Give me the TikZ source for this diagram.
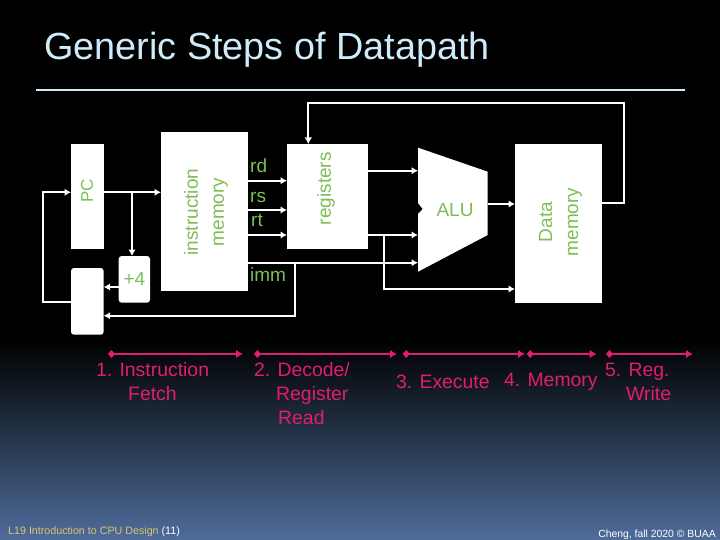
\documentclass[tikz,border=0pt]{standalone}
\usepackage{fontspec}
\setmainfont{Liberation Sans}
\usetikzlibrary{arrows.meta}
\definecolor{lbl}{RGB}{125,190,85}
\definecolor{stepc}{RGB}{225,30,110}
\definecolor{ttl}{RGB}{205,235,250}
\definecolor{gold}{RGB}{225,195,110}
\definecolor{bgtop}{RGB}{0,0,0}
\definecolor{bgbot}{RGB}{78,108,155}
\tikzset{
  x=1pt,y=-1pt,
  box/.style={fill=white,draw=none,inner sep=0pt,outer sep=0pt,anchor=north west,text=lbl,align=center,font=\fontsize{19}{21}\selectfont},
  wire/.style={draw=white,line width=2pt,-{Latex[length=6.5pt,width=7.5pt]}},
  stepline/.style={draw=stepc,line width=2.8pt,{Diamond[length=7pt,width=8pt]}-{Latex[length=7pt,width=8.5pt]}},
  reg/.style={text=lbl,font=\fontsize{19}{21}\selectfont,inner sep=0pt},
  innerlbl/.style={text=lbl,rotate=90,align=center,font=\fontsize{19}{26}\selectfont,inner sep=0pt},
  steptxt/.style={text=stepc,font=\fontsize{19.4}{24}\selectfont,inner sep=0pt,align=left,anchor=west},
}
\begin{document}
\begin{tikzpicture}
\useasboundingbox (0,0) rectangle (720,540);
\fill[bgtop] (0,0) rectangle (720,340);
\shade[bottom color=bgbot,top color=bgtop] (0,540) rectangle (720,340);
% title
\node[text=ttl,font=\fontsize{37.8}{40}\selectfont,anchor=base west,inner sep=0pt] (title) at (44,59.5) {Generic Steps of Datapath};
\coordinate (ruleL) at (36,89.7);
\coordinate (ruleR) at (685,89.7);
\draw[ttl,line width=2pt] (ruleL) -- (ruleR);
% boxes
\node[box,minimum width=32.7pt,minimum height=104.7pt] (pc) at (71,144) {};
\node[innerlbl,font=\fontsize{17}{20}\selectfont] (pct) at (87,190.7) {PC};
\node[box,minimum width=86.7pt,minimum height=158.7pt] (imem) at (161,132) {};
\node[innerlbl] (imemt) at (206,212) {instruction\\\hspace*{0pt}\hfill memory\hfill\hspace*{0pt}};
\node[box,minimum width=80.7pt,minimum height=104.7pt] (regs) at (287,144) {};
\node[innerlbl] (regst) at (326,188.7) {registers};
\node[box,minimum width=86.7pt,minimum height=158.7pt] (dmem) at (515,144) {};
\node[innerlbl] (dmemt) at (560.5,222) {Data\\memory};
\node[box,rounded corners=3pt,minimum width=31.3pt,minimum height=46.7pt] (inc) at (118.7,256) {+4};
\node[box,rounded corners=3pt,minimum width=32.7pt,minimum height=66.7pt] (mux) at (71,268) {};
% ALU
\fill[white] (418,147.7) -- (487.7,171.7) -- (487.7,235) -- (418,271.7) -- (418,214) -- (422.7,209) -- (418,203) -- cycle;
\node[text=lbl,font=\fontsize{19}{21}\selectfont,inner sep=0pt] (alu) at (455,210) {ALU};
% register labels
\node[reg,anchor=west] (rd) at (250,166) {rd};
\node[reg,anchor=west] (rs) at (250,197) {rs};
\node[reg,anchor=west] (rt) at (251,220) {rt};
\node[reg,anchor=west] (imm) at (250,275) {imm};
% helper coordinates
\coordinate (pcIn) at (71,192.3);
\coordinate (loopC) at (42.7,192.3);
\coordinate (muxOut) at (71,301.7);
\coordinate (loopD) at (42.7,301.7);
\coordinate (imIn) at (161,192.3);
\coordinate (pcOut) at (103.7,192.3);
\coordinate (tap) at (132,192.3);
\coordinate (incIn) at (132,256);
\coordinate (incOut) at (118.7,287);
\coordinate (muxA) at (103.7,287);
\coordinate (muxB) at (103.7,315.7);
\coordinate (rdA) at (247.7,180.7);
\coordinate (rdB) at (287,180.7);
\coordinate (rsA) at (247.7,210);
\coordinate (rsB) at (287,210);
\coordinate (rtA) at (247.7,235);
\coordinate (rtB) at (287,235);
\coordinate (immA) at (247.7,262.7);
\coordinate (immT) at (295,262.7);
\coordinate (immC) at (295,315.7);
\coordinate (aluImm) at (418,262.7);
\coordinate (r1A) at (367.7,170.7);
\coordinate (r1B) at (418,170.7);
\coordinate (r2A) at (367.7,235);
\coordinate (r2B) at (418,235);
\coordinate (tapB) at (384,235);
\coordinate (tapC) at (384,289);
\coordinate (dmIn) at (515,289);
\coordinate (aluOut) at (487.7,204);
\coordinate (dmA) at (515,204);
\coordinate (dmOut) at (601.7,203.5);
\coordinate (fbC) at (624.3,203.5);
\coordinate (fbT) at (624.3,103.5);
\coordinate (fbL) at (308.3,103.5);
\coordinate (rgIn) at (308.3,144);
% wires
\draw[wire] (muxOut) -- (loopD) -- (loopC) -- (pcIn);
\draw[wire] (pcOut) -- (imIn);
\draw[wire] (tap) -- (incIn);
\draw[wire] (incOut) -- (muxA);
\draw[wire] (immT) -- (immC) -- (muxB);
\draw[wire] (rdA) -- (rdB);
\draw[wire] (rsA) -- (rsB);
\draw[wire] (rtA) -- (rtB);
\draw[wire] (immA) -- (aluImm);
\draw[wire] (r1A) -- (r1B);
\draw[wire] (r2A) -- (r2B);
\draw[wire] (tapB) -- (tapC) -- (dmIn);
\draw[wire] (aluOut) -- (dmA);
\draw[wire] (dmOut) -- (fbC) -- (fbT) -- (fbL) -- (rgIn);
% step arrows
\coordinate (s1a) at (108,354); \coordinate (s1b) at (243,354);
\coordinate (s2a) at (254,354); \coordinate (s2b) at (397,354);
\coordinate (s3a) at (402.7,354); \coordinate (s3b) at (525,354);
\coordinate (s4a) at (526.7,354); \coordinate (s4b) at (596.7,354);
\coordinate (s5a) at (606,354); \coordinate (s5b) at (693,354);
\draw[stepline] (s1a) -- (s1b);
\draw[stepline] (s2a) -- (s2b);
\draw[stepline] (s3a) -- (s3b);
\draw[stepline] (s4a) -- (s4b);
\draw[stepline] (s5a) -- (s5b);
% step labels
\node[steptxt] (t1) at (96,382) {1. Instruction\\\hspace*{32pt}Fetch};
\node[steptxt] (t2) at (254,394) {2. Decode/\\\hspace*{22pt}Register\\\hspace*{24pt}Read};
\node[steptxt] (t3) at (396,382) {3. Execute};
\node[steptxt] (t4) at (504,382) {4. Memory};
\node[steptxt] (t5) at (605,382) {5. Reg.\\\hspace*{21pt}Write};
% footers
\node[text=gold,font=\fontsize{10.7}{12}\selectfont,anchor=west,inner sep=0pt] (f1) at (8,532) {L19 Introduction to CPU Design \textcolor{white}{(11)}};
\node[text=white,font=\fontsize{10.4}{12}\selectfont,anchor=east,inner sep=0pt] (f2) at (716,535) {Cheng, fall 2020 © BUAA};
\end{tikzpicture}
\end{document}
